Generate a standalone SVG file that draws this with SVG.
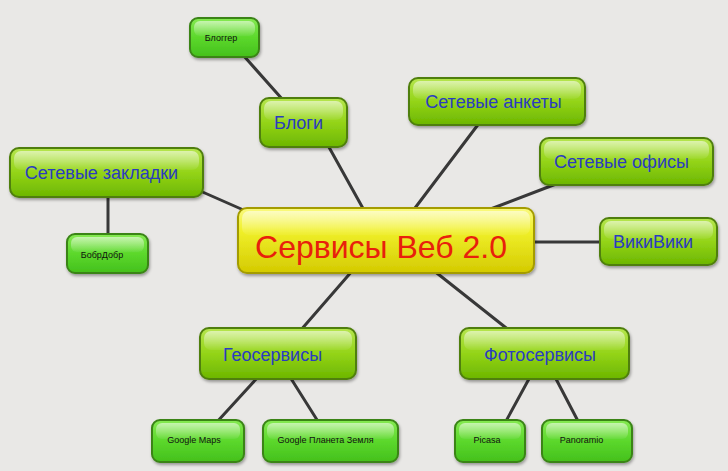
<svg xmlns="http://www.w3.org/2000/svg" width="728" height="471" viewBox="0 0 728 471">
<defs>
<linearGradient id="gMid" x1="0" y1="0" x2="0" y2="1">
<stop offset="0" stop-color="#b6e64e"/>
<stop offset="0.5" stop-color="#94d418"/>
<stop offset="1" stop-color="#6cb600"/>
</linearGradient>
<linearGradient id="gLeaf" x1="0" y1="0" x2="0" y2="1">
<stop offset="0" stop-color="#86ea52"/>
<stop offset="0.5" stop-color="#5cd82c"/>
<stop offset="1" stop-color="#44c01c"/>
</linearGradient>
<linearGradient id="gCenter" x1="0" y1="0" x2="0" y2="1">
<stop offset="0" stop-color="#fafa80"/>
<stop offset="0.35" stop-color="#f0f02a"/>
<stop offset="1" stop-color="#d4ca00"/>
</linearGradient>
<linearGradient id="gGloss" x1="0" y1="0" x2="0" y2="1">
<stop offset="0" stop-color="#ffffff" stop-opacity="0.55"/>
<stop offset="1" stop-color="#ffffff" stop-opacity="0.05"/>
</linearGradient>
<filter id="sh" x="-10%" y="-20%" width="125%" height="150%">
<feDropShadow dx="1" dy="2" stdDeviation="1.5" flood-color="#000" flood-opacity="0.35"/>
</filter>
</defs>
<style>
.mid{fill:url(#gMid);stroke:#4f7f0c;stroke-width:2;filter:url(#sh)}
.leaf{fill:url(#gLeaf);stroke:#3a8418;stroke-width:2;filter:url(#sh)}
.center{fill:url(#gCenter);stroke:#a49c00;stroke-width:2;filter:url(#sh)}
.gloss{fill:url(#gGloss);stroke:none}
.tm{font-family:"Liberation Sans",Arial,sans-serif;font-size:18px;fill:#2a3cc0;text-anchor:middle}
.tl{font-family:"Liberation Sans",Arial,sans-serif;font-size:9px;fill:#111;text-anchor:middle}
.tc{font-family:"Liberation Sans",Arial,sans-serif;font-size:32px;fill:#e8200c;text-anchor:middle}
.ln{stroke:#383838;stroke-width:3;fill:none;stroke-linecap:round}
</style>
<rect x="0" y="0" width="728" height="471" fill="#e9e8e6"/>
<g id="connectors">
<line class="ln" x1="243" y1="55" x2="283" y2="100"/>
<line class="ln" x1="325" y1="140" x2="365" y2="212"/>
<line class="ln" x1="480" y1="122" x2="412" y2="212"/>
<line class="ln" x1="556" y1="184" x2="488" y2="210"/>
<line class="ln" x1="530" y1="242" x2="602" y2="242"/>
<line class="ln" x1="198" y1="190" x2="248" y2="212"/>
<line class="ln" x1="108" y1="195" x2="108" y2="236"/>
<line class="ln" x1="353" y1="270" x2="300" y2="331"/>
<line class="ln" x1="433" y1="270" x2="510" y2="331"/>
<line class="ln" x1="258" y1="377" x2="216" y2="423"/>
<line class="ln" x1="290" y1="377" x2="319" y2="423"/>
<line class="ln" x1="530" y1="377" x2="505" y2="423"/>
<line class="ln" x1="555" y1="377" x2="579" y2="423"/>
</g>
<g id="n-blogger">
<rect class="leaf" x="190" y="18" width="69" height="39" rx="8"/>
<rect class="gloss" x="194" y="21" width="61" height="15" rx="6"/>
<text class="tl" x="221" y="41">Блоггер</text>
</g>
<g id="n-blogi">
<rect class="mid" x="260" y="98" width="87" height="49" rx="9"/>
<rect class="gloss" x="264" y="101" width="79" height="19" rx="7"/>
<text class="tm" x="298.5" y="129">Блоги</text>
</g>
<g id="n-zakladki">
<rect class="mid" x="10" y="148" width="193" height="49" rx="9"/>
<rect class="gloss" x="14" y="151" width="185" height="19" rx="7"/>
<text class="tm" x="101.5" y="179">Сетевые закладки</text>
</g>
<g id="n-bobr">
<rect class="leaf" x="67" y="234" width="81" height="39" rx="8"/>
<rect class="gloss" x="71" y="237" width="73" height="15" rx="6"/>
<text class="tl" x="102" y="258">БобрДобр</text>
</g>
<g id="n-ankety">
<rect class="mid" x="409" y="78" width="176" height="47" rx="9"/>
<rect class="gloss" x="413" y="81" width="168" height="18" rx="7"/>
<text class="tm" x="493.5" y="108">Сетевые анкеты</text>
</g>
<g id="n-ofisy">
<rect class="mid" x="540" y="138" width="173" height="47" rx="9"/>
<rect class="gloss" x="544" y="141" width="165" height="18" rx="7"/>
<text class="tm" x="621.5" y="168">Сетевые офисы</text>
</g>
<g id="n-wiki">
<rect class="mid" x="600" y="218" width="117" height="47" rx="9"/>
<rect class="gloss" x="604" y="221" width="109" height="18" rx="7"/>
<text class="tm" x="653" y="248">ВикиВики</text>
</g>
<g id="n-center">
<rect class="center" x="238" y="208" width="296" height="65" rx="9"/>
<rect class="gloss" x="242" y="211" width="288" height="24" rx="7"/>
<text class="tc" x="381" y="258">Сервисы Веб 2.0</text>
</g>
<g id="n-geo">
<rect class="mid" x="200" y="328" width="156" height="51" rx="9"/>
<rect class="gloss" x="204" y="331" width="148" height="19" rx="7"/>
<text class="tm" x="272.5" y="361">Геосервисы</text>
</g>
<g id="n-foto">
<rect class="mid" x="460" y="328" width="169" height="51" rx="9"/>
<rect class="gloss" x="464" y="331" width="161" height="19" rx="7"/>
<text class="tm" x="540" y="361">Фотосервисы</text>
</g>
<g id="n-gmaps">
<rect class="leaf" x="152" y="420" width="92" height="42" rx="8"/>
<rect class="gloss" x="156" y="423" width="84" height="16" rx="6"/>
<text class="tl" x="194" y="443">Google Maps</text>
</g>
<g id="n-gearth">
<rect class="leaf" x="263" y="420" width="135" height="42" rx="8"/>
<rect class="gloss" x="267" y="423" width="127" height="16" rx="6"/>
<text class="tl" x="325.5" y="443">Google Планета Земля</text>
</g>
<g id="n-picasa">
<rect class="leaf" x="455" y="420" width="70" height="42" rx="8"/>
<rect class="gloss" x="459" y="423" width="62" height="16" rx="6"/>
<text class="tl" x="487" y="443">Picasa</text>
</g>
<g id="n-panoramio">
<rect class="leaf" x="542" y="420" width="90" height="42" rx="8"/>
<rect class="gloss" x="546" y="423" width="82" height="16" rx="6"/>
<text class="tl" x="581.5" y="443">Panoramio</text>
</g>
</svg>
